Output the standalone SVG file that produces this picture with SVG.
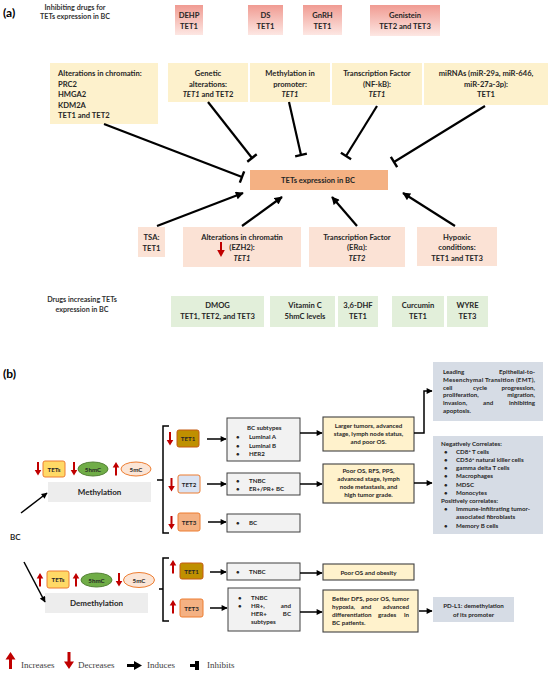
<svg xmlns="http://www.w3.org/2000/svg" width="550" height="674" viewBox="0 0 550 674">
<defs>
<linearGradient id="pinkGrad" x1="0" y1="0" x2="0" y2="1"><stop offset="0" stop-color="#f09b92"/><stop offset="1" stop-color="#fde7e3"/></linearGradient>
<marker id="arrA" markerUnits="userSpaceOnUse" viewBox="0 0 10 10" refX="9" refY="5" markerWidth="9" markerHeight="8" orient="auto"><path d="M0,0 L10,5 L0,10 Z" fill="#000"/></marker>
<marker id="tbar" markerUnits="userSpaceOnUse" viewBox="-2 -7 4 14" refX="0" refY="0" markerWidth="4" markerHeight="14" orient="auto"><path d="M0,-6 V6" stroke="#000" stroke-width="2.4" fill="none"/></marker>
<marker id="arrB" markerUnits="userSpaceOnUse" viewBox="0 0 10 10" refX="9" refY="5" markerWidth="7" markerHeight="6" orient="auto"><path d="M0,0 L10,5 L0,10 Z" fill="#000"/></marker>
<path id="redDown" d="M-1,0 H1 V8 H3.3 L0,13.5 L-3.3,8 H-1 Z" fill="#c00000"/>
<path id="redUp" d="M-1,13.5 H1 V5.5 H3.3 L0,0 L-3.3,5.5 H-1 Z" fill="#c00000"/>
</defs>
<style>
text{font-family:Lato,"Open Sans","Liberation Sans",sans-serif;font-weight:bold;fill:#262626}
.a{font-size:7.6px}
.h{font-size:7.2px;fill:#333}
.b{font-size:6.2px}
.m{font-size:8px}
.c{text-anchor:middle}
.e{text-anchor:end}
.i{font-style:italic}
.lab{font-size:12px;fill:#000}
.leg{font-family:"Liberation Serif","DejaVu Serif",serif;font-weight:normal;font-size:9px;fill:#404040}
.pink{fill:url(#pinkGrad)}
.cream{fill:#fdf1cc}
.salmon{fill:#fbe2d5}
.green{fill:#e2efda}
.gray{fill:#f2f2f2;stroke:#404040;stroke-width:1}
.res{fill:#fff2cc;stroke:#404040;stroke-width:1.1}
.blue{fill:#d6dce5}
.con{stroke:#000;fill:none}
.ca{stroke-width:2.2}
.cb{stroke-width:1.5}
</style>
<rect width="550" height="674" fill="#fff"/>

<!-- (a) -->
<text class="lab" x="3" y="17">(a)</text>
<text class="h c" x="75" y="10">Inhibiting drugs for</text>
<text class="h c" x="75" y="19">TETs expression in BC</text>

<g id="dehp"><rect class="pink" x="175" y="5" width="28" height="30"/><text class="a c" x="189" y="18">DEHP</text><text class="a c" x="189" y="29">TET1</text></g>
<g id="ds"><rect class="pink" x="248" y="5" width="35" height="30"/><text class="a c" x="265.5" y="18">DS</text><text class="a c" x="265.5" y="29">TET1</text></g>
<g id="gnrh"><rect class="pink" x="303" y="5" width="39" height="30"/><text class="a c" x="322.5" y="18">GnRH</text><text class="a c" x="322.5" y="29">TET1</text></g>
<g id="genistein"><rect class="pink" x="370" y="5" width="70" height="31"/><text class="a c" x="405" y="18">Genistein</text><text class="a c" x="405" y="29">TET2 and TET3</text></g>

<g id="chromatin"><rect class="cream" x="50" y="63" width="108" height="61"/>
<text class="a" x="58" y="76">Alterations in chromatin:</text><text class="a" x="58" y="86.5">PRC2</text><text class="a" x="58" y="97">HMGA2</text><text class="a" x="58" y="107.5">KDM2A</text><text class="a" x="58" y="118">TET1 and TET2</text></g>
<g id="genetic"><rect class="cream" x="168" y="63" width="80" height="39"/>
<text class="a c" x="208" y="76">Genetic</text><text class="a c" x="208" y="86.5">alterations:</text><text class="a c" x="208" y="97"><tspan class="i">TET1</tspan> and TET2</text></g>
<g id="methprom"><rect class="cream" x="250" y="63" width="80" height="39"/>
<text class="a c" x="290" y="76">Methylation in</text><text class="a c" x="290" y="86.5">promoter:</text><text class="a c i" x="290" y="97">TET1</text></g>
<g id="nfkb"><rect class="cream" x="332" y="63" width="90" height="42"/>
<text class="a c" x="377" y="76">Transcription Factor</text><text class="a c" x="377" y="86.5">(NF-kB):</text><text class="a c i" x="377" y="97">TET1</text></g>
<g id="mirna"><rect class="cream" x="424" y="63" width="124" height="42"/>
<text class="a c" x="486" y="76">miRNAs (miR-29a, miR-646,</text><text class="a c" x="486" y="86.5">miR-27a-3p):</text><text class="a c" x="486" y="97">TET1</text></g>

<g id="tets"><rect x="250" y="170" width="138" height="20" fill="#f4b183"/><text class="a" x="281" y="183">TETs expression in BC</text></g>

<g id="tsa"><rect class="salmon" x="138" y="227" width="27" height="30"/><text class="a c" x="151.5" y="239.5">TSA:</text><text class="a c" x="151.5" y="251">TET1</text></g>
<g id="ezh2"><rect class="salmon" x="183" y="227" width="118" height="40"/><text class="a c" x="242" y="239.5">Alterations in chromatin</text><text class="a c" x="242" y="250">(EZH2):</text><text class="a c i" x="242" y="260.5">TET1</text>
<path d="M220,242 H222 V250 H224.8 L221,257 L217.2,250 H220 Z" fill="#c00000"/></g>
<g id="era"><rect class="salmon" x="309" y="227" width="96" height="40"/><text class="a c" x="357" y="239.5">Transcription Factor</text><text class="a c" x="357" y="250">(ERα):</text><text class="a c i" x="357" y="260.5">TET2</text></g>
<g id="hypoxic"><rect class="salmon" x="417" y="227" width="80" height="39"/><text class="a c" x="457" y="239.5">Hypoxic</text><text class="a c" x="457" y="250">conditions:</text><text class="a c" x="457" y="260.5">TET1 and TET3</text></g>

<text class="h c" x="82" y="302">Drugs increasing TETs</text>
<text class="h c" x="82" y="312">expression in BC</text>
<g id="dmog"><rect class="green" x="171" y="296" width="93" height="31"/><text class="a c" x="217.5" y="308">DMOG</text><text class="a c" x="217.5" y="319">TET1, TET2, and TET3</text></g>
<g id="vitc"><rect class="green" x="270" y="296" width="65" height="31"/><text class="a c" x="305" y="308">Vitamin C</text><text class="a c" x="305" y="319">5hmC levels</text></g>
<g id="dhf"><rect class="green" x="338" y="296" width="40" height="31"/><text class="a c" x="358" y="308">3,6-DHF</text><text class="a c" x="358" y="319">TET1</text></g>
<g id="curcumin"><rect class="green" x="392" y="296" width="52" height="31"/><text class="a c" x="418" y="308">Curcumin</text><text class="a c" x="418" y="319">TET1</text></g>
<g id="wyre"><rect class="green" x="447" y="296" width="41" height="31"/><text class="a c" x="467.5" y="308">WYRE</text><text class="a c" x="467.5" y="319">TET3</text></g>

<g id="connectors-a" class="con ca">
<path d="M104,124 L242,177" marker-end="url(#tbar)"/>
<path d="M208,102 L252,158" marker-end="url(#tbar)"/>
<path d="M289,102 L301,155" marker-end="url(#tbar)"/>
<path d="M377,106 L346,156" marker-end="url(#tbar)"/>
<path d="M485,106 L394,162" marker-end="url(#tbar)"/>
<path d="M157,226 L243,193" marker-end="url(#arrA)"/>
<path d="M242,226 L282,197" marker-end="url(#arrA)"/>
<path d="M357,226 L332,197" marker-end="url(#arrA)"/>
<path d="M455,226 L403,193" marker-end="url(#arrA)"/>
</g>

<!-- (b) -->
<text class="lab" x="3" y="378">(b)</text>
<g id="bc"><text class="m" x="10" y="540">BC</text></g>

<g id="meth">
<use href="#redDown" x="38" y="462"/>
<rect x="43" y="461" width="22" height="16" rx="2" fill="#ffd966" stroke="#ed7d31" stroke-width="1"/><text class="b c" x="54" y="471.5">TETs</text>
<use href="#redDown" x="74" y="462"/>
<ellipse cx="93" cy="469" rx="15" ry="7" fill="#70ad47" stroke="#548235" stroke-width="1"/><text class="b c" x="93" y="471.5">5hmC</text>
<use href="#redUp" x="116" y="462"/>
<ellipse cx="136" cy="469" rx="15" ry="7" fill="#fbe5d6" stroke="#ed7d31" stroke-width="1"/><text class="b c" x="136" y="471.5">5mC</text>
<rect x="48" y="482" width="103" height="20" fill="#ededed"/><text class="m c" x="99.5" y="495">Methylation</text>
</g>

<g id="tet1m"><use href="#redDown" x="170" y="432"/><rect x="177" y="430" width="22" height="17" rx="2" fill="#bf9000" stroke="#c55a11" stroke-width="1"/><text class="b c" x="188" y="441" fill="#000">TET1</text></g>
<g id="bcsub"><rect class="gray" x="227" y="418" width="73" height="43"/>
<text class="b" x="247" y="430">BC subtypes</text>
<text class="b" x="236" y="439">•</text><text class="b" x="249" y="439">Luminal A</text>
<text class="b" x="236" y="447.5">•</text><text class="b" x="249" y="447.5">Luminal B</text>
<text class="b" x="236" y="456">•</text><text class="b" x="249" y="456">HER2</text></g>
<g id="larger"><rect class="res" x="323" y="417" width="91" height="34"/>
<text class="b c" x="368.5" y="427.5">Larger tumors, advanced</text><text class="b c" x="368.5" y="435.5">stage, lymph node status,</text><text class="b c" x="368.5" y="443.5">and poor OS.</text></g>
<g id="leading"><rect class="blue" x="433" y="362" width="110" height="59"/>
<text class="b" x="443" y="374">Leading</text><text class="b e" x="535" y="374">Epithelial-to-</text>
<text class="b" x="443" y="381.8" textLength="92" lengthAdjust="spacing">Mesenchymal Transition (EMT),</text>
<text class="b" x="443" y="389.6">cell</text><text class="b" x="473" y="389.6">cycle</text><text class="b e" x="535" y="389.6">progression,</text>
<text class="b" x="443" y="397.4">proliferation,</text><text class="b e" x="535" y="397.4">migration,</text>
<text class="b" x="443" y="405.2">invasion,</text><text class="b" x="483" y="405.2">and</text><text class="b e" x="535" y="405.2">inhibiting</text>
<text class="b" x="443" y="413">apoptosis.</text></g>

<g id="tet2m"><use href="#redDown" x="171.5" y="478"/><rect x="178" y="475" width="22" height="18" rx="2" fill="#dae3f3" stroke="#ed7d31" stroke-width="1"/><text class="b c" x="189" y="486.5">TET2</text></g>
<g id="tnbc1"><rect class="gray" x="227" y="473" width="73" height="22"/>
<text class="b" x="236" y="482.5">•</text><text class="b" x="249" y="482.5">TNBC</text>
<text class="b" x="236" y="490.5">•</text><text class="b" x="249" y="490.5">ER+/PR+ BC</text></g>
<g id="poor"><rect class="res" x="323" y="464" width="91" height="39"/>
<text class="b c" x="368.5" y="472.5">Poor OS, RFS, PPS,</text><text class="b c" x="368.5" y="480.5">advanced stage, lymph</text><text class="b c" x="368.5" y="488.5">node metastasis, and</text><text class="b c" x="368.5" y="496.5">high tumor grade.</text></g>
<g id="negcorr"><rect class="blue" x="433" y="436" width="110" height="98"/>
<text class="b" x="441" y="445.5">Negatively Correlates:</text>
<text class="b" x="444" y="453.7">•</text><text class="b" x="456" y="453.7">CD8<tspan dy="-2" font-size="4">+</tspan><tspan dy="2"> T cells</tspan></text>
<text class="b" x="444" y="461.9">•</text><text class="b" x="456" y="461.9">CD56<tspan dy="-2" font-size="4">+</tspan><tspan dy="2"> natural killer cells</tspan></text>
<text class="b" x="444" y="470.1">•</text><text class="b" x="456" y="470.1">gamma delta T cells</text>
<text class="b" x="444" y="478.3">•</text><text class="b" x="456" y="478.3">Macrophages</text>
<text class="b" x="444" y="486.5">•</text><text class="b" x="456" y="486.5">MDSC</text>
<text class="b" x="444" y="494.7">•</text><text class="b" x="456" y="494.7">Monocytes</text>
<text class="b" x="441" y="502.9">Positively correlates:</text>
<text class="b" x="444" y="511.1">•</text><text class="b" x="456" y="511.1">Immune-infiltrating tumor-</text>
<text class="b" x="456" y="519.3">associated fibroblasts</text>
<text class="b" x="444" y="527.5">•</text><text class="b" x="456" y="527.5">Memory B cells</text></g>

<g id="tet3m"><use href="#redDown" x="171.5" y="516"/><rect x="178" y="513" width="22" height="18" rx="2" fill="#f4b183" stroke="#ed7d31" stroke-width="1"/><text class="b c" x="189" y="524.5">TET3</text></g>
<g id="bc3"><rect class="gray" x="227" y="514" width="73" height="18"/><text class="b" x="236" y="525">•</text><text class="b" x="249" y="525">BC</text></g>

<g id="demeth">
<use href="#redUp" x="40" y="573"/>
<rect x="47" y="571" width="22" height="17" rx="2" fill="#ffd966" stroke="#ed7d31" stroke-width="1"/><text class="b c" x="58" y="582">TETs</text>
<use href="#redUp" x="76" y="573"/>
<ellipse cx="96.5" cy="580" rx="15.5" ry="7" fill="#70ad47" stroke="#548235" stroke-width="1"/><text class="b c" x="96.5" y="582.5">5hmC</text>
<use href="#redDown" x="119" y="573"/>
<ellipse cx="139" cy="580" rx="15.5" ry="7.5" fill="#fbe5d6" stroke="#ed7d31" stroke-width="1"/><text class="b c" x="139" y="582.5">5mC</text>
<rect x="45" y="593" width="103" height="20" fill="#ededed"/><text class="m c" x="96.5" y="606">Demethylation</text>
</g>

<g id="tet1d"><use href="#redUp" x="173" y="560"/><rect x="180" y="563" width="23" height="16" rx="2" fill="#bf9000" stroke="#c55a11" stroke-width="1"/><text class="b c" x="191.5" y="573.5" fill="#000">TET1</text></g>
<g id="tnbc2"><rect class="gray" x="227" y="563" width="73" height="17"/><text class="b" x="236" y="574">•</text><text class="b" x="249" y="574">TNBC</text></g>
<g id="obesity"><rect class="res" x="323" y="564" width="91" height="16"/><text class="b c" x="368.5" y="574.5">Poor OS and obesity</text></g>

<g id="tet3d"><use href="#redUp" x="173" y="600"/><rect x="180" y="599" width="23" height="18" rx="2" fill="#f4b183" stroke="#ed7d31" stroke-width="1"/><text class="b c" x="191.5" y="610.5">TET3</text></g>
<g id="hr"><rect class="gray" x="228" y="588" width="72" height="43"/>
<text class="b" x="238" y="600">•</text><text class="b" x="251" y="600">TNBC</text>
<text class="b" x="238" y="608">•</text><text class="b" x="251" y="608">HR+,</text><text class="b e" x="291" y="608">and</text>
<text class="b" x="251" y="616">HER+</text><text class="b e" x="291" y="616">BC</text>
<text class="b" x="251" y="624">subtypes</text></g>
<g id="better"><rect class="res" x="323" y="590" width="95" height="42"/>
<text class="b" x="332" y="601" textLength="77" lengthAdjust="spacing">Better DFS, poor OS, tumor</text>
<text class="b" x="332" y="609">hypoxia,</text><text class="b" x="361" y="609">and</text><text class="b e" x="409" y="609">advanced</text>
<text class="b" x="332" y="617">differentiation</text><text class="b" x="378" y="617">grades</text><text class="b e" x="409" y="617">in</text>
<text class="b" x="332" y="625">BC patients.</text></g>
<g id="pdl1"><rect class="blue" x="433" y="597" width="81" height="25"/>
<text class="b c" x="473.5" y="608">PD-L1: demethylation</text><text class="b c" x="473.5" y="616.5">of its promoter</text></g>

<g id="connectors-b" class="con cb">
<path d="M21,513 L47,493" marker-end="url(#arrB)"/>
<path d="M24,562 L45,602" marker-end="url(#arrB)"/>
<path d="M169,426 H163 V533 H169 M163,480 H157"/>
<path d="M169,558 H163 V621 H169 M163,589 H159"/>
<path d="M207,439 H226" marker-end="url(#arrB)"/>
<path d="M300,433 H322" marker-end="url(#arrB)"/>
<path d="M414,433 H424 V391 H432" marker-end="url(#arrB)"/>
<path d="M207,484 H226" marker-end="url(#arrB)"/>
<path d="M300,484 H322" marker-end="url(#arrB)"/>
<path d="M414,483 H432" marker-end="url(#arrB)"/>
<path d="M208,522 H226" marker-end="url(#arrB)"/>
<path d="M210,572 H226" marker-end="url(#arrB)"/>
<path d="M300,573 H322" marker-end="url(#arrB)"/>
<path d="M210,608 H227" marker-end="url(#arrB)"/>
<path d="M300,612 H322" marker-end="url(#arrB)"/>
<path d="M419,611 H432" marker-end="url(#arrB)"/>
</g>

<g id="legend">
<path d="M9,669 V659.5 H5.5 L10.5,652 L15.5,659.5 H12 V669 Z" fill="#c00000"/>
<text class="leg" x="21" y="668">Increases</text>
<path d="M67.5,652 V661.5 H64 L69,669 L74,661.5 H70.5 V652 Z" fill="#c00000"/>
<text class="leg" x="78" y="668">Decreases</text>
<path d="M127,664 H134 V661 L142,665.5 L134,670 V667 H127 Z" fill="#000"/>
<text class="leg" x="147" y="668">Induces</text>
<path d="M190,664 H195 V661 H199 V670 H195 V667 H190 Z" fill="#000"/>
<text class="leg" x="207" y="668">Inhibits</text>
</g>
</svg>
